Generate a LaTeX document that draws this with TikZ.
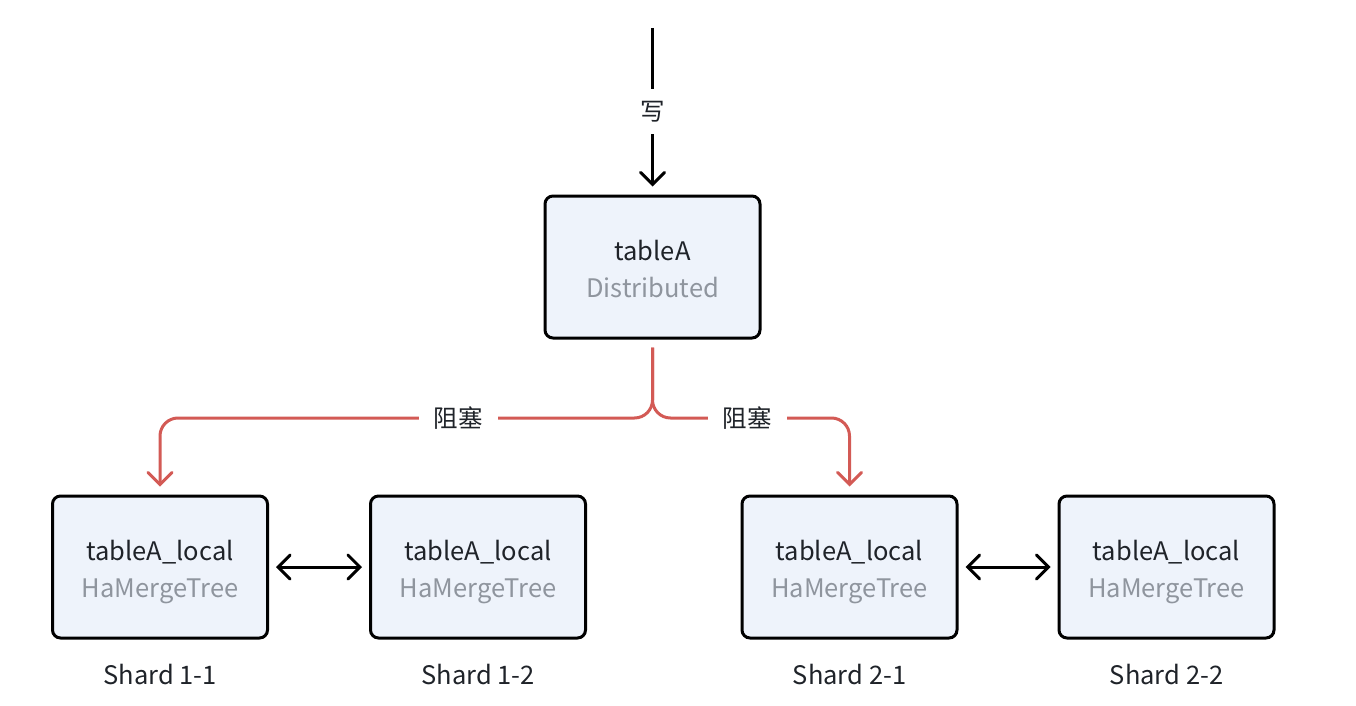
\documentclass[tikz,border=0pt]{standalone}
\usepackage{fontspec}
\setmainfont{Noto Sans CJK SC}
\usetikzlibrary{arrows.meta}
\definecolor{boxfill}{HTML}{EEF3FB}
\definecolor{darktext}{HTML}{1F2329}
\definecolor{graytext}{HTML}{8F959E}
\definecolor{redline}{HTML}{D35A55}
\newcommand{\topstrut}{\rule{0pt}{31pt}}
\newcommand{\mainstrut}{\rule{0pt}{25pt}}
\tikzset{
  tbl/.style={draw=black, line width=3pt, fill=boxfill, rounded corners=8pt,
    minimum width=215pt, minimum height=142pt, align=center, inner sep=0pt,
    font=\fontsize{25.5}{37}\selectfont, text=darktext},
  lbl/.style={font=\fontsize{24.5}{28}\selectfont, text=darktext, fill=white, inner xsep=4pt, inner ysep=12pt},
  shardlbl/.style={font=\fontsize{25.5}{30}\selectfont, text=darktext},
  tip/.style={-{Straight Barb[length=12pt,width=24pt,line cap=round]}},
  blk/.style={line width=3pt, draw=black, tip},
  red/.style={line width=3pt, draw=redline, rounded corners=18pt, tip},
  dbl/.style={line width=3pt, draw=black, {Straight Barb[length=12pt,width=24pt,line cap=round]}-{Straight Barb[length=12pt,width=24pt,line cap=round]}}
}
\begin{document}
\begin{tikzpicture}[x=1pt,y=-1pt]
\useasboundingbox (0,0) rectangle (1356,706);
\node[tbl] (T) at (652.5,267) {\mainstrut tableA\\\textcolor{graytext}{Distributed}};
\node[tbl] (B1) at (160,567) {\topstrut tableA\_local\\\textcolor{graytext}{HaMergeTree}};
\node[tbl] (B2) at (478,567) {\topstrut tableA\_local\\\textcolor{graytext}{HaMergeTree}};
\node[tbl] (B3) at (849.5,567) {\topstrut tableA\_local\\\textcolor{graytext}{HaMergeTree}};
\node[tbl] (B4) at (1166.5,567) {\topstrut tableA\_local\\\textcolor{graytext}{HaMergeTree}};
\node[shardlbl] (S1) at (160,675) {Shard 1-1};
\node[shardlbl] (S2) at (478,675) {Shard 1-2};
\node[shardlbl] (S3) at (849.5,675) {Shard 2-1};
\node[shardlbl] (S4) at (1166.5,675) {Shard 2-2};
\coordinate (src) at (652.5,28);
\draw[blk, shorten >=8pt] (src) -- (T.north) node[lbl, pos=0.5] (w) {写};
\draw[red, shorten <=8pt, shorten >=8pt] (T.south) -- (652.5,418) -- (160,418) -- (B1.north);
\draw[red, shorten <=8pt, shorten >=8pt] (T.south) -- (652.5,418) -- (849.5,418) -- (B3.north);
\node[lbl, inner xsep=15pt] (L1) at (458,418) {阻塞};
\node[lbl, inner xsep=15pt] (L2) at (747,418) {阻塞};
\draw[dbl, shorten <=7pt, shorten >=7pt] (B1.east) -- (B2.west);
\draw[dbl, shorten <=7pt, shorten >=7pt] (B3.east) -- (B4.west);
\end{tikzpicture}
\end{document}
